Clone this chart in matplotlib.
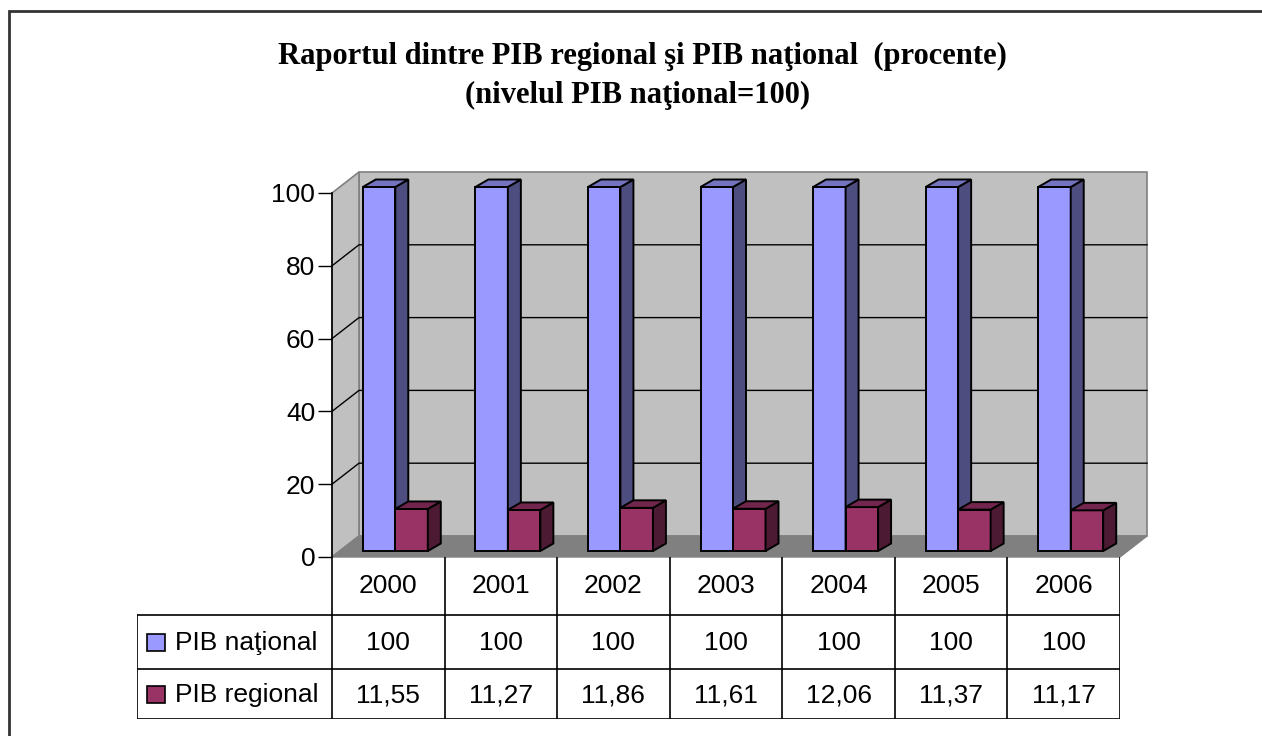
import numpy as np
import matplotlib
matplotlib.use('Agg')
import matplotlib.pyplot as plt
from matplotlib.patches import Polygon, Rectangle

# data
years = ['2000', '2001', '2002', '2003', '2004', '2005', '2006']
pib_national = [100, 100, 100, 100, 100, 100, 100]
pib_regional = [11.55, 11.27, 11.86, 11.61, 12.06, 11.37, 11.17]
series_names = ['PIB naţional', 'PIB regional']
title_lines = ['Raportul dintre PIB regional şi PIB naţional  (procente)',
               '(nivelul PIB naţional=100)']

W, H = 1262, 736
sans = ['Liberation Sans Narrow', 'Liberation Sans', 'DejaVu Sans']
serif = ['Liberation Serif', 'DejaVu Serif']
fs = 19

col_front = ['#9999ff', '#993366']
col_side = ['#4d4d80', '#4d1a33']
col_top = ['#7373bf', '#73264d']

fig = plt.figure(figsize=(W / 100, H / 100), dpi=100)

# outer frame
fig.add_artist(Rectangle((9 / W, -0.01), 1.1, (H - 11) / H + 0.01, transform=fig.transFigure,
                         fill=False, ec='#333333', lw=2))

fig.text(642 / W, 1 - 56 / H, title_lines[0], ha='center', va='center', family=serif,
         weight='bold', fontsize=22)
fig.text(638 / W, 1 - 95 / H, title_lines[1], ha='center', va='center', family=serif,
         weight='bold', fontsize=22)

# plot area (front plane), x in categories, y in value units
ax = fig.add_axes([332 / W, (H - 557) / H, 788 / W, 364 / H])
ax.set_xlim(-0.5, 6.5)
ax.set_ylim(0, 100)
ax.patch.set_visible(False)
for s in ['top', 'right', 'bottom']:
    ax.spines[s].set_visible(False)
ax.spines['left'].set_linewidth(1.2)
ax.set_xticks([])
ax.set_yticks([0, 20, 40, 60, 80, 100])
ax.tick_params(axis='y', length=10, width=1, pad=2)
for lab in ax.get_yticklabels():
    lab.set_family(sans)
    lab.set_fontsize(fs)

cat_px = 788 / 7.0
val_px = 364 / 100.0
# depth of the walls and bars, in data units
wdx, wdy = 27 / cat_px, 21 / val_px
bx0, by0 = 7 / cat_px, 6 / val_px
bdx, bdy = 13 / cat_px, 7.5 / val_px
bw = 32.5 / cat_px

x0, x1 = -0.5, 6.5

def poly(pts, fc, ec='none', lw=0, z=1):
    ax.add_patch(Polygon(pts, closed=True, fc=fc, ec=ec, lw=lw, zorder=z, clip_on=False))

# back wall
poly([(x0 + wdx, wdy), (x1 + wdx, wdy), (x1 + wdx, 100 + wdy), (x0 + wdx, 100 + wdy)],
     '#c0c0c0', '#808080', 1.2)
# left wall
poly([(x0, 0), (x0 + wdx, wdy), (x0 + wdx, 100 + wdy), (x0, 100)], '#c0c0c0', '#808080', 1.2)
# gridlines
for t in [20, 40, 60, 80]:
    ax.plot([x0, x0 + wdx, x1 + wdx], [t, t + wdy, t + wdy], color='black', lw=1,
            zorder=1.5, clip_on=False)
# floor
poly([(x0, 0), (x1, 0), (x1 + wdx, wdy), (x0 + wdx, wdy)], '#808080', '#808080', 1, z=1.6)

def bar3d(left, h, k):
    fl = left + bx0
    fb = by0
    poly([(fl, fb), (fl + bw, fb), (fl + bw, fb + h), (fl, fb + h)], col_front[k], 'black', 1.4, 2)
    poly([(fl + bw, fb), (fl + bw + bdx, fb + bdy), (fl + bw + bdx, fb + h + bdy), (fl + bw, fb + h)],
         col_side[k], 'black', 1.4, 2)
    poly([(fl, fb + h), (fl + bw, fb + h), (fl + bw + bdx, fb + h + bdy), (fl + bdx, fb + h + bdy)],
         col_top[k], 'black', 1.4, 2)

for i in range(len(years)):
    bar3d(i - bw, pib_national[i], 0)
    bar3d(i, pib_regional[i], 1)

# data table below the plot
leg_w = 195 / cat_px
tab = fig.add_axes([137 / W, (H - 719) / H, 983 / W, 162 / H])
tab.set_xlim(x0 - leg_w, x1)
tab.set_ylim(162, 0)
tab.axis('off')
rows = [0, 58, 112, 162]
for i in range(len(years) + 1):
    tab.plot([x0 + i, x0 + i], [rows[0], rows[3]], color='black', lw=1.2)
tab.plot([x0 - leg_w, x0 - leg_w], [rows[1], rows[3]], color='black', lw=1.2)
for r in rows[1:]:
    tab.plot([x0 - leg_w, x1], [r, r], color='black', lw=1.2)

def fmt(v):
    if v == int(v):
        return str(int(v))
    return f'{v:.2f}'.replace('.', ',')

for i, y in enumerate(years):
    tab.text(i, 29, y, ha='center', va='center', family=sans, fontsize=fs)
    tab.text(i, 86, fmt(pib_national[i]), ha='center', va='center', family=sans, fontsize=fs)
    tab.text(i, 138, fmt(pib_regional[i]), ha='center', va='center', family=sans, fontsize=fs)

sq = 18 / cat_px
for k, name in enumerate(series_names):
    yc = (rows[k + 1] + rows[k + 2]) / 2
    tab.add_patch(Rectangle((x0 - leg_w + 10 / cat_px, yc - 8), sq, 17, fc=col_front[k],
                            ec='black', lw=1.2))
    tab.text(x0 - leg_w + 38 / cat_px, yc + 1, name, ha='left', va='center', family=sans,
             fontsize=fs)

fig.savefig('out.png', dpi=100)
